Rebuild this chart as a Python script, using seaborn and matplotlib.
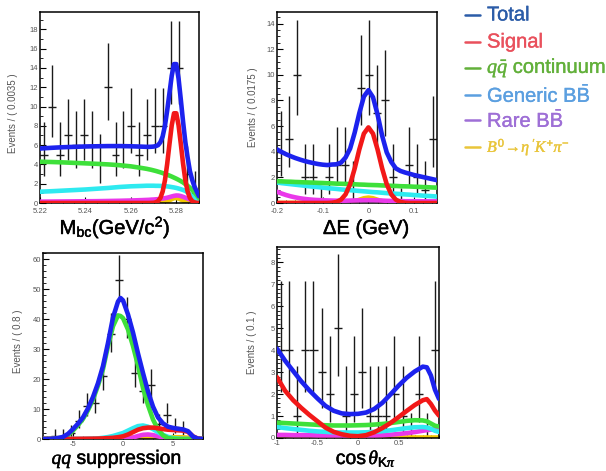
import math
import matplotlib
matplotlib.use("Agg")
import matplotlib.pyplot as plt
import matplotlib.patheffects as pe
from matplotlib.ticker import MultipleLocator, AutoMinorLocator, FixedLocator
from matplotlib.lines import Line2D
import seaborn as sns

# ---------------- Mbc ----------------
mbc_counts = [5, 10, 5, 7, 6, 7, 6, 4, 12, 5, 6, 8, 5, 7, 8, 8, 14, 14, 3, 1]
mbc_x = [5.220, 5.225, 5.230, 5.235, 5.240, 5.245, 5.250, 5.255, 5.260, 5.265,
         5.266, 5.267, 5.268, 5.269, 5.270, 5.271, 5.272, 5.273, 5.274, 5.275,
         5.276, 5.277, 5.278, 5.279, 5.280, 5.281, 5.282, 5.283, 5.284, 5.285,
         5.286, 5.287, 5.288, 5.289, 5.290]
mbc_total = [5.65, 5.72, 5.78, 5.82, 5.86, 5.88, 5.90, 5.90, 5.88, 5.84,
             5.83, 5.82, 5.82, 5.83, 5.85, 5.90, 6.00, 6.30, 6.90, 8.00,
             9.60, 11.40, 13.20, 14.40, 14.40, 12.90, 10.70, 8.40, 6.30, 4.70,
             3.30, 2.40, 1.70, 1.20, 0.70]
mbc_signal = [0, 0, 0, 0, 0, 0, 0, 0, 0, 0,
              0.00, 0.00, 0.00, 0.01, 0.02, 0.07, 0.20, 0.52, 1.19, 2.34,
              4.06, 6.12, 8.06, 9.30, 9.30, 8.06, 6.12, 4.06, 2.34, 1.19,
              0.52, 0.20, 0.07, 0.02, 0.01]
mbc_continuum = [4.28, 4.25, 4.21, 4.16, 4.11, 4.06, 4.00, 3.92, 3.80, 3.62,
                 3.58, 3.54, 3.49, 3.44, 3.38, 3.32, 3.25, 3.18, 3.10, 3.02,
                 2.93, 2.84, 2.74, 2.63, 2.52, 2.40, 2.27, 2.13, 1.95, 1.78,
                 1.58, 1.35, 1.10, 0.82, 0.50]
mbc_generic = [1.17, 1.22, 1.28, 1.34, 1.40, 1.48, 1.56, 1.66, 1.73, 1.77,
               1.78, 1.79, 1.79, 1.79, 1.79, 1.78, 1.78, 1.77, 1.76, 1.74,
               1.72, 1.69, 1.65, 1.61, 1.56, 1.50, 1.43, 1.35, 1.25, 1.10,
               0.90, 0.72, 0.52, 0.35, 0.18]
mbc_rare = [0.14, 0.15, 0.16, 0.17, 0.18, 0.19, 0.21, 0.23, 0.26, 0.30,
            0.31, 0.32, 0.33, 0.35, 0.36, 0.38, 0.40, 0.43, 0.46, 0.50,
            0.55, 0.61, 0.68, 0.74, 0.78, 0.77, 0.72, 0.64, 0.55, 0.46,
            0.37, 0.29, 0.22, 0.16, 0.10]
mbc_peaking = [0, 0, 0, 0, 0, 0, 0, 0, 0, 0,
               0, 0, 0, 0, 0, 0, 0.01, 0.03, 0.06, 0.11,
               0.18, 0.28, 0.40, 0.50, 0.52, 0.46, 0.36, 0.25, 0.16, 0.09,
               0.05, 0.02, 0.01, 0, 0]

# ---------------- Delta E ----------------
de_counts = [4, 5, 10, 2, 2, 0, 2, 3, 3, 1, 9, 10, 7, 8, 2, 0, 3, 2, 1, 5]
de_x = [-0.20, -0.19, -0.18, -0.17, -0.16, -0.15, -0.14, -0.13, -0.12, -0.11,
        -0.10, -0.09, -0.08, -0.07, -0.06, -0.05, -0.04, -0.03, -0.02, -0.01,
        0.00, 0.01, 0.02, 0.03, 0.04, 0.05, 0.06, 0.07, 0.08, 0.09,
        0.10, 0.11, 0.12, 0.13, 0.14, 0.15]
de_total = [4.18, 3.98, 3.80, 3.65, 3.51, 3.39, 3.28, 3.19, 3.11, 3.04,
            2.99, 2.96, 3.00, 3.02, 3.15, 3.55, 4.25, 5.50, 7.00, 8.30,
            8.80, 8.25, 6.90, 5.25, 3.95, 3.20, 2.70, 2.50, 2.38, 2.28,
            2.18, 2.10, 2.02, 1.94, 1.86, 1.78]
de_signal = [0, 0, 0, 0, 0, 0, 0, 0, 0, 0,
             0, 0, 0.02, 0.08, 0.26, 0.67, 1.47, 2.70, 4.17, 5.41,
             5.90, 5.41, 4.17, 2.70, 1.47, 0.67, 0.26, 0.08, 0.02, 0,
             0, 0, 0, 0, 0, 0]
de_continuum = [1.70, 1.69, 1.67, 1.66, 1.64, 1.63, 1.61, 1.60, 1.59, 1.57,
                1.56, 1.54, 1.53, 1.51, 1.50, 1.49, 1.47, 1.46, 1.44, 1.43,
                1.41, 1.40, 1.39, 1.37, 1.36, 1.34, 1.33, 1.31, 1.30, 1.29,
                1.27, 1.26, 1.24, 1.23, 1.21, 1.20]
de_generic = [1.60, 1.55, 1.51, 1.47, 1.43, 1.39, 1.35, 1.31, 1.27, 1.24,
              1.20, 1.16, 1.13, 1.10, 1.06, 1.03, 1.00, 0.97, 0.94, 0.91,
              0.88, 0.85, 0.83, 0.80, 0.77, 0.75, 0.72, 0.70, 0.67, 0.65,
              0.62, 0.60, 0.57, 0.55, 0.53, 0.50]
de_rare = [0.88, 0.74, 0.62, 0.52, 0.44, 0.37, 0.32, 0.28, 0.25, 0.23,
           0.21, 0.20, 0.19, 0.18, 0.18, 0.18, 0.19, 0.20, 0.21, 0.22,
           0.22, 0.22, 0.21, 0.19, 0.17, 0.16, 0.15, 0.15, 0.14, 0.14,
           0.14, 0.14, 0.13, 0.13, 0.13, 0.13]
de_peaking = [0, 0, 0, 0, 0, 0, 0, 0, 0, 0,
              0, 0, 0, 0, 0, 0.02, 0.06, 0.14, 0.25, 0.37,
              0.42, 0.37, 0.25, 0.14, 0.06, 0.02, 0, 0, 0, 0,
              0, 0, 0, 0, 0, 0]

# ---------------- qq suppression ----------------
qq_counts = [0, 1, 1, 2, 6, 11, 12, 21, 35, 53, 40, 22, 16, 18, 5, 8, 4, 3, 0, 0]
qq_x = [-8.0, -7.5, -7.0, -6.5, -6.0, -5.5, -5.0, -4.5, -4.0, -3.5,
        -3.0, -2.5, -2.0, -1.5, -1.0, -0.5, -0.25, 0.0, 0.5, 1.0,
        1.5, 2.0, 2.5, 3.0, 3.5, 4.0, 4.5, 5.0, 5.5, 6.0,
        6.5, 7.0, 7.5, 8.0]
qq_total = [0, 0, 0.1, 0.3, 0.7, 1.7, 3.3, 5.1, 7.2, 10.2,
            14.0, 18.6, 24.3, 32.0, 40.5, 45.8, 47.0, 46.2, 41.5, 35.5,
            28.5, 22.0, 15.8, 10.8, 7.2, 5.2, 4.1, 3.7, 3.4, 3.2,
            2.6, 0.8, 0.1, 0]
qq_signal = [0, 0, 0, 0, 0, 0, 0, 0.02, 0.05, 0.08,
             0.1, 0.15, 0.2, 0.3, 0.4, 0.6, 0.75, 0.9, 1.5, 2.3,
             3.1, 3.6, 3.8, 3.8, 3.6, 3.3, 3.1, 3.0, 2.9, 2.8,
             2.4, 0.9, 0.1, 0]
qq_continuum = [0, 0, 0.05, 0.1, 0.4, 1.3, 2.8, 4.6, 6.7, 9.6,
                13.2, 17.8, 23.3, 31.0, 37.6, 41.2, 41.0, 40.3, 36.5, 31.0,
                24.5, 17.0, 11.3, 6.5, 3.2, 1.2, 0.3, 0.1, 0, 0,
                0, 0, 0, 0]
qq_generic = [0, 0, 0, 0, 0, 0, 0, 0, 0, 0.05,
              0.1, 0.2, 0.4, 0.65, 1.0, 1.5, 1.75, 2.0, 2.8, 3.6,
              4.3, 4.5, 4.1, 3.3, 2.3, 1.4, 0.7, 0.3, 0.1, 0,
              0, 0, 0, 0]
qq_rare = [0, 0, 0, 0, 0, 0, 0, 0, 0, 0,
           0, 0, 0, 0, 0, 0.05, 0.08, 0.12, 0.25, 0.5,
           1.0, 1.4, 1.5, 1.3, 0.9, 0.5, 0.2, 0.05, 0, 0,
           0, 0, 0, 0]
qq_peaking = [0, 0, 0, 0, 0, 0, 0, 0, 0, 0,
              0, 0, 0.05, 0.1, 0.2, 0.3, 0.35, 0.4, 0.5, 0.55,
              0.6, 0.6, 0.6, 0.6, 0.6, 0.6, 0.6, 0.6, 0.6, 0.55,
              0.45, 0.15, 0, 0]

# ---------------- cos theta K pi ----------------
cos_counts = [4, 4, 1, 4, 4, 3, 2, 5, 1, 2, 3, 1, 1, 1, 2, 1, 0, 2, 0, 4]
cos_x = [-1.0, -0.9, -0.8, -0.7, -0.6, -0.5, -0.4, -0.3, -0.2, -0.1,
         0.0, 0.1, 0.2, 0.3, 0.4, 0.5, 0.6, 0.7, 0.8, 0.85,
         0.9, 0.95, 1.0]
cos_total = [4.07, 3.52, 3.05, 2.58, 2.17, 1.80, 1.46, 1.24, 1.12, 1.09,
             1.10, 1.16, 1.32, 1.60, 1.98, 2.38, 2.74, 3.03, 3.25, 3.22,
             2.85, 2.20, 1.78]
cos_signal = [2.77, 2.15, 1.72, 1.37, 1.05, 0.76, 0.47, 0.28, 0.17, 0.10,
              0.08, 0.13, 0.26, 0.45, 0.68, 0.95, 1.23, 1.50, 1.72, 1.77,
              1.55, 1.25, 1.02]
cos_continuum = [0.70, 0.68, 0.66, 0.64, 0.62, 0.60, 0.58, 0.57, 0.57, 0.57,
                 0.58, 0.59, 0.61, 0.64, 0.68, 0.73, 0.78, 0.81, 0.80, 0.76,
                 0.66, 0.56, 0.52]
cos_generic = [0.50, 0.45, 0.41, 0.37, 0.33, 0.30, 0.28, 0.26, 0.25, 0.25,
               0.25, 0.26, 0.28, 0.31, 0.35, 0.40, 0.45, 0.49, 0.50, 0.48,
               0.42, 0.33, 0.28]
cos_rare = [0.14, 0.14, 0.13, 0.13, 0.13, 0.12, 0.12, 0.12, 0.12, 0.12,
            0.12, 0.12, 0.12, 0.13, 0.15, 0.18, 0.22, 0.27, 0.33, 0.36,
            0.38, 0.40, 0.41]
cos_peaking = [0.03, 0.03, 0.03, 0.03, 0.03, 0.03, 0.03, 0.03, 0.03, 0.03,
               0.03, 0.03, 0.03, 0.03, 0.03, 0.03, 0.03, 0.03, 0.03, 0.03,
               0.03, 0.03, 0.03]

legend_labels = ["Total", "Signal", r"$q\bar{q}$ continuum", r"Generic B$\mathrm{\bar{B}}$",
                 r"Rare B$\mathrm{\bar{B}}$", r"$B^{0}\!\rightarrow\!\eta\;'K^{+}\pi^{-}$"]
legend_colors = ["#2b5ca8", "#e9505c", "#62b03a", "#5b9fe0", "#9e6fd6", "#e9c53a"]

curve_colors = {"total": "#1c22ee", "signal": "#f21818", "continuum": "#3ee03a",
                "generic": "#2eeaf0", "rare": "#ea38ea", "peaking": "#f2c800"}

# ---------------- style ----------------
sns.set_theme(style="ticks")
plt.rcParams.update({
    "font.family": ["Liberation Sans", "DejaVu Sans"],
    "mathtext.fontset": "custom",
    "mathtext.rm": "Liberation Sans",
    "mathtext.bf": "Liberation Sans:bold",
    "mathtext.it": "Liberation Serif:italic",
    "mathtext.sf": "Liberation Sans",
    "xtick.direction": "in",
    "ytick.direction": "in",
    "axes.edgecolor": "black",
    "axes.linewidth": 1.0,
})

fig = plt.figure(figsize=(6.06, 4.71), dpi=100)
W, H = 606.0, 471.0


def box(left, top, right, bottom):
    return [left / W, 1 - bottom / H, (right - left) / W, (bottom - top) / H]


def heavy(color, w):
    return [pe.Stroke(linewidth=w, foreground=color), pe.Normal()]


def poisson_cdf(n, mu):
    if mu <= 0:
        return 1.0
    return sum(math.exp(-mu + k * math.log(mu) - math.lgamma(k + 1)) for k in range(n + 1))


def bisect_mu(n, target):
    lo, hi = 0.0, 200.0
    for _ in range(80):
        mid = 0.5 * (lo + hi)
        if poisson_cdf(n, mid) > target:
            lo = mid
        else:
            hi = mid
    return 0.5 * (lo + hi)


def poisson_errors(counts):
    alpha = 0.158655
    lo_err, hi_err = [], []
    for n in counts:
        if n == 0:
            lo_err.append(0.0)
            hi_err.append(-math.log(1 - 0.682689))
            continue
        up = bisect_mu(n, alpha)
        low = bisect_mu(n - 1, 1 - alpha)
        lo_err.append(n - low)
        hi_err.append(up - n)
    return lo_err, hi_err


def panel(rect, xlim, ylim, counts, cx, comps, xmaj, xminor, ymaj, ymin_div, xticklabels, xpad):
    ax = fig.add_axes(rect)
    nb = len(counts)
    width = (xlim[1] - xlim[0]) / nb
    centers = [xlim[0] + (i + 0.5) * width for i in range(nb)]
    lo, hi = poisson_errors(counts)
    ax.errorbar(centers, counts, xerr=width / 2, yerr=[lo, hi], fmt="none",
                ecolor="#1a1a1a", elinewidth=1.0, capsize=0, zorder=1)
    order = ["peaking", "rare", "generic", "continuum", "signal", "total"]
    for z, key in enumerate(order):
        sns.lineplot(x=cx, y=comps[key], ax=ax, color=curve_colors[key], linewidth=3.3,
                     estimator=None, sort=False, legend=False, zorder=2 + z)
    ax.set_xlim(*xlim)
    ax.set_ylim(*ylim)
    ax.set_xlabel("")
    ax.set_ylabel("")
    ax.xaxis.set_major_locator(FixedLocator(xmaj))
    ax.set_xticklabels(xticklabels)
    ax.xaxis.set_minor_locator(MultipleLocator(xminor))
    ax.yaxis.set_major_locator(MultipleLocator(ymaj))
    ax.yaxis.set_minor_locator(AutoMinorLocator(ymin_div))
    ax.tick_params(which="both", direction="in", top=False, right=False,
                   labelsize=5.5, labelcolor="#555555", color="black")
    ax.tick_params(axis="x", pad=xpad)
    ax.tick_params(axis="y", pad=1.5)
    ax.tick_params(which="major", length=4, width=0.8)
    ax.tick_params(which="minor", length=2, width=0.6)
    for s in ax.spines.values():
        s.set_visible(True)
        s.set_color("black")
        s.set_linewidth(1.1)
    return ax


ax1 = panel(box(40, 12, 199, 203), (5.22, 5.29), (0, 19.8), mbc_counts, mbc_x,
            dict(total=mbc_total, signal=mbc_signal, continuum=mbc_continuum,
                 generic=mbc_generic, rare=mbc_rare, peaking=mbc_peaking),
            [5.22, 5.24, 5.26, 5.28], 0.005, 2, 2,
            ["5.22", "5.24", "5.26", "5.28"], 3.5)
ax2 = panel(box(277, 12, 437, 203), (-0.2, 0.15), (0, 14.9), de_counts, de_x,
            dict(total=de_total, signal=de_signal, continuum=de_continuum,
                 generic=de_generic, rare=de_rare, peaking=de_peaking),
            [-0.2, -0.1, 0.0, 0.1], 0.02, 2, 4,
            ["-0.2", "-0.1", "0", "0.1"], 3.5)
ax3 = panel(box(43, 253, 203, 439), (-8, 8), (0, 62), qq_counts, qq_x,
            dict(total=qq_total, signal=qq_signal, continuum=qq_continuum,
                 generic=qq_generic, rare=qq_rare, peaking=qq_peaking),
            [-5, 0, 5], 1, 10, 5,
            ["-5", "0", "5"], 1.2)
ax4 = panel(box(277, 247, 439, 438), (-1, 1), (0, 8.7), cos_counts, cos_x,
            dict(total=cos_total, signal=cos_signal, continuum=cos_continuum,
                 generic=cos_generic, rare=cos_rare, peaking=cos_peaking),
            [-1, -0.5, 0, 0.5], 0.1, 1, 5,
            ["-1", "-0.5", "0", "0.5"], 1.2)

# y-axis titles
for (xp, yp, txt) in [(13, 113, "Events / ( 0.0035 )"), (253, 107, "Events / ( 0.0175 )"),
                      (18, 341, "Events / ( 0.8 )"), (252, 342, "Events / ( 0.1 )")]:
    fig.text(xp / W, 1 - yp / H, txt, rotation=90, ha="center", va="center",
             fontsize=7, color="#555555")

# x-axis titles
for (xp, yp, txt, sz) in [(115, 234, r"$\mathrm{M}_{\mathrm{bc}}\mathrm{(GeV/c^{2})}$", 14.5),
                          (366, 234, "ΔE (GeV)", 14.5),
                          (117, 464, r"$qq$ suppression", 14),
                          (366, 464, r"cos$\,\theta_{\mathrm{K}\pi}$", 14)]:
    fig.text(xp / W, 1 - yp / H, txt, ha="center", va="baseline",
             fontsize=sz, color="black", path_effects=heavy("black", 0.35))

# legend block
legend_y = [15, 42, 68, 95, 120, 147]
for i, (lab, col, yy) in enumerate(zip(legend_labels, legend_colors, legend_y)):
    fy = 1 - yy / H
    fig.add_artist(Line2D([465 / W, 480 / W], [fy, fy], transform=fig.transFigure,
                          color=col, linewidth=1.8))
    size = 14.5 if i < 5 else 11.5
    fig.text(487 / W, fy, lab, ha="left", va="center", fontsize=size, color=col,
             path_effects=heavy(col, 0.25))

fig.savefig("out.png", dpi=100, facecolor="white")
